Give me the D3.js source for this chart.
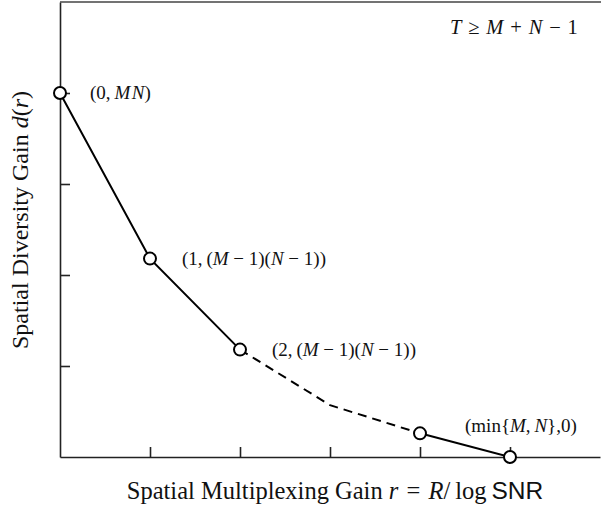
<!DOCTYPE html>
<html>
<head>
<meta charset="utf-8">
<script src="https://cdn.jsdelivr.net/npm/d3@7"></script>
<style>
  body { margin: 0; background: #fff; }
  text { font-family: "Liberation Serif", "DejaVu Serif", serif; fill: #111; }
</style>
</head>
<body>
<div id="chart"></div>
<script>
// data
var rSolid1 = [0, 1, 2];
var dSolid1 = [4, 2.18, 1.18];
var rDashed = [2, 3, 4];
var dDashed = [1.18, 0.57, 0.26];
var rSolid2 = [4, 5];
var dSolid2 = [0.26, 0];
var cornerR = [0, 1, 2, 4, 5];
var cornerD = [4, 2.18, 1.18, 0.26, 0];
var xTicks = [1, 2, 3, 4, 5];
var yTicks = [1, 2, 3, 4];

// set up svg
var svgWidth = 601;
var svgHeight = 513;
var margin = { top: 2, right: 0, bottom: 56, left: 60 };
var width = 540;
var height = svgHeight - margin.top - margin.bottom;

var svg = d3.select("#chart")
  .append("svg")
  .attr("width", svgWidth)
  .attr("height", svgHeight);

var chartGroup = svg.append("g")
  .attr("transform", `translate(${margin.left}, ${margin.top})`);

// scales
var xScale = d3.scaleLinear().domain([0, 6]).range([0, width]);
var yScale = d3.scaleLinear().domain([0, 5]).range([height, 0]);

// axes, ticks pointing inward, no labels
var bottomAxis = d3.axisBottom(xScale).tickValues(xTicks)
  .tickSizeInner(-10).tickSizeOuter(0).tickFormat("");
var leftAxis = d3.axisLeft(yScale).tickValues(yTicks)
  .tickSizeInner(-10).tickSizeOuter(0).tickFormat("");

var xAxisG = chartGroup.append("g")
  .attr("transform", `translate(0, ${height})`)
  .call(bottomAxis);
var yAxisG = chartGroup.append("g").call(leftAxis);

[xAxisG, yAxisG].forEach(function(g) {
  g.selectAll("path, line").attr("stroke", "#222").attr("stroke-width", 1.6);
});

// top frame line
chartGroup.append("line")
  .attr("x1", 0).attr("x2", width + 5)
  .attr("y1", yScale(5)).attr("y2", yScale(5))
  .attr("stroke", "#444").attr("stroke-width", 1.6);

// lines
var line = d3.line()
  .x(d => xScale(d[0]))
  .y(d => yScale(d[1]));

function drawLine(rs, ds, dashed) {
  chartGroup.append("path")
    .datum(d3.zip(rs, ds))
    .attr("d", line)
    .attr("fill", "none")
    .attr("stroke", "#000")
    .attr("stroke-width", 2)
    .attr("stroke-dasharray", dashed ? "9,6" : null);
}
drawLine(rSolid1, dSolid1, false);
drawLine(rDashed, dDashed, true);
drawLine(rSolid2, dSolid2, false);

// corner points
chartGroup.selectAll("circle")
  .data(d3.zip(cornerR, cornerD))
  .enter()
  .append("circle")
  .attr("cx", d => xScale(d[0]))
  .attr("cy", d => yScale(d[1]))
  .attr("r", 6)
  .attr("fill", "#fff")
  .attr("stroke", "#000")
  .attr("stroke-width", 2);

// math-style label helper: parts are [text, italic]
function mathText(g, x, y, parts, size, anchor) {
  var t = g.append("text")
    .attr("x", x).attr("y", y)
    .attr("font-size", size)
    .attr("text-anchor", anchor || "start");
  parts.forEach(function(p) {
    var s = t.append("tspan").text(p[0]);
    if (p[1] === true) s.attr("font-style", "italic");
    if (p[1] === "sans") s.style("font-family", "'Liberation Sans', 'DejaVu Sans', sans-serif");
  });
  return t;
}

// point annotations
mathText(chartGroup, xScale(0) + 30, yScale(4) + 6,
  [["(0,\u2009"], ["M\u200aN", true], [")"]], 19);
mathText(chartGroup, xScale(1) + 32, yScale(2.18) + 6,
  [["(1,\u2009("], ["M", true], [" − 1)("], ["N", true], [" − 1))"]], 19);
mathText(chartGroup, xScale(2) + 32, yScale(1.18) + 6,
  [["(2,\u2009("], ["M", true], [" − 1)("], ["N", true], [" − 1))"]], 19);
mathText(chartGroup, xScale(5) - 45, yScale(0.26) - 1,
  [["(min{"], ["M", true], [",\u2009"], ["N", true], ["},0)"]], 19);

// condition in top right
mathText(chartGroup, xScale(5) - 60, 32,
  [["T", true], ["\u2004≥\u2004"], ["M", true], ["\u2004+\u2004"], ["N", true], ["\u2004−\u20041"]], 20.5);

// axis labels
mathText(svg, 335, 499,
  [["Spatial Multiplexing Gain "], ["r", true], ["\u2004=\u2004"], ["R", true], ["/\u2009log\u2009"], ["SNR", "sans"]], 24.5, "middle");

var yLab = mathText(svg, 0, 0,
  [["Spatial Diversity Gain "], ["d", true], ["("], ["r", true], [")"]], 24, "middle");
yLab.attr("transform", "translate(28, 220) rotate(-90)");
</script>
</body>
</html>
